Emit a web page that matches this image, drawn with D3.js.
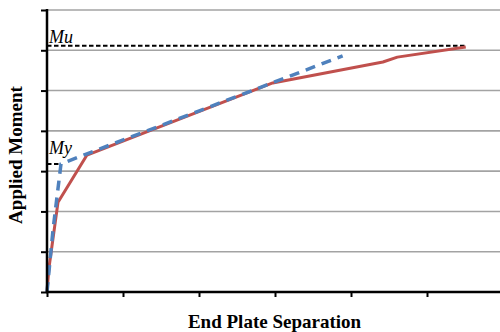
<!DOCTYPE html>
<html>
<head>
<meta charset="utf-8">
<script src="https://cdn.jsdelivr.net/npm/d3@7"></script>
<style>
  html, body { margin: 0; padding: 0; background: #fff; }
  svg { display: block; }
</style>
</head>
<body>
<svg id="chart" width="500" height="332"></svg>
<script>
// Moment–separation curves (arbitrary units)
const testX = [0, 0.026, 0.145, 0.526, 2.97, 4.42, 4.61, 5.51];
const testY = [0, 0.6, 2.23, 3.40, 5.19, 5.71, 5.83, 6.08];
const modelX = [0, 0.079, 0.184, 0.526, 3.89];
const modelY = [0, 1.54, 3.18, 3.43, 5.86];

// Reference moment levels
const levelNames = ["Mu", "My"];
const levelValues = [6.11, 3.18];
const levelEnds = [5.51, 0.18];

const xTicks = [0, 1, 2, 3, 4, 5, 6];
const yTicks = [0, 1, 2, 3, 4, 5, 6, 7];

const svg = d3.select("#chart");
const W = 500, H = 332;

const x = d3.scaleLinear().domain([0, 6]).range([47, 503]);
const y = d3.scaleLinear().domain([0, 7]).range([292, 10]);

// Horizontal gridlines
svg.append("g")
  .selectAll("line")
  .data(yTicks.slice(1))
  .join("line")
  .attr("x1", x(0)).attr("x2", W)
  .attr("y1", d => y(d)).attr("y2", d => y(d))
  .attr("stroke", "#a3a3a3")
  .attr("stroke-width", 1.6);

// Dashed reference levels
svg.append("g")
  .selectAll("line")
  .data(levelValues)
  .join("line")
  .attr("x1", x(0))
  .attr("x2", (d, i) => x(levelEnds[i]))
  .attr("y1", d => y(d)).attr("y2", d => y(d))
  .attr("stroke", "#000")
  .attr("stroke-width", 2)
  .attr("stroke-dasharray", "4.5,2.5");

svg.append("g")
  .selectAll("text")
  .data(levelNames)
  .join("text")
  .attr("x", 49)
  .attr("y", (d, i) => y(levelValues[i]) - (i === 0 ? 3 : 10))
  .attr("font-family", "'Liberation Serif', 'Times New Roman', serif")
  .attr("font-style", "italic")
  .attr("font-size", 18)
  .attr("fill", "#000")
  .text(d => d);

const line = d3.line().x(d => x(d[0])).y(d => y(d[1]));

svg.append("path")
  .datum(d3.zip(testX, testY))
  .attr("d", line)
  .attr("fill", "none")
  .attr("stroke", "#c0504d")
  .attr("stroke-width", 3)
  .attr("stroke-linejoin", "round");

svg.append("path")
  .datum(d3.zip(modelX, modelY))
  .attr("d", line)
  .attr("fill", "none")
  .attr("stroke", "#4f81bd")
  .attr("stroke-width", 3.5)
  .attr("stroke-dasharray", "10,7");

// Axes
const yAxis = d3.axisLeft(y).tickValues(yTicks).tickSize(6).tickFormat("");
const xAxis = d3.axisBottom(x).tickValues(xTicks).tickSize(5).tickFormat("");

const gy = svg.append("g").attr("transform", `translate(${x(0)},0)`).call(yAxis);
gy.select(".domain").remove();
gy.selectAll(".tick line").attr("stroke", "#000").attr("stroke-width", 2);
svg.append("line")
  .attr("x1", x(0)).attr("x2", x(0))
  .attr("y1", y(7) - 1).attr("y2", y(0) + 1)
  .attr("stroke", "#000").attr("stroke-width", 2.5);

const gx = svg.append("g").attr("transform", `translate(0,${y(0)})`).call(xAxis);
gx.select(".domain").remove();
gx.selectAll(".tick line").attr("stroke", "#000").attr("stroke-width", 2);
svg.append("line")
  .attr("x1", x(0) - 1).attr("x2", W)
  .attr("y1", y(0)).attr("y2", y(0))
  .attr("stroke", "#000").attr("stroke-width", 2.5);

// Axis titles
svg.append("text")
  .attr("x", 274.5).attr("y", 328)
  .attr("text-anchor", "middle")
  .attr("font-family", "'Liberation Serif', 'Times New Roman', serif")
  .attr("font-weight", "bold")
  .attr("font-size", 19)
  .text("End Plate Separation");

svg.append("text")
  .attr("transform", "translate(22,155) rotate(-90)")
  .attr("text-anchor", "middle")
  .attr("font-family", "'Liberation Serif', 'Times New Roman', serif")
  .attr("font-weight", "bold")
  .attr("font-size", 19)
  .text("Applied Moment");
</script>
</body>
</html>
